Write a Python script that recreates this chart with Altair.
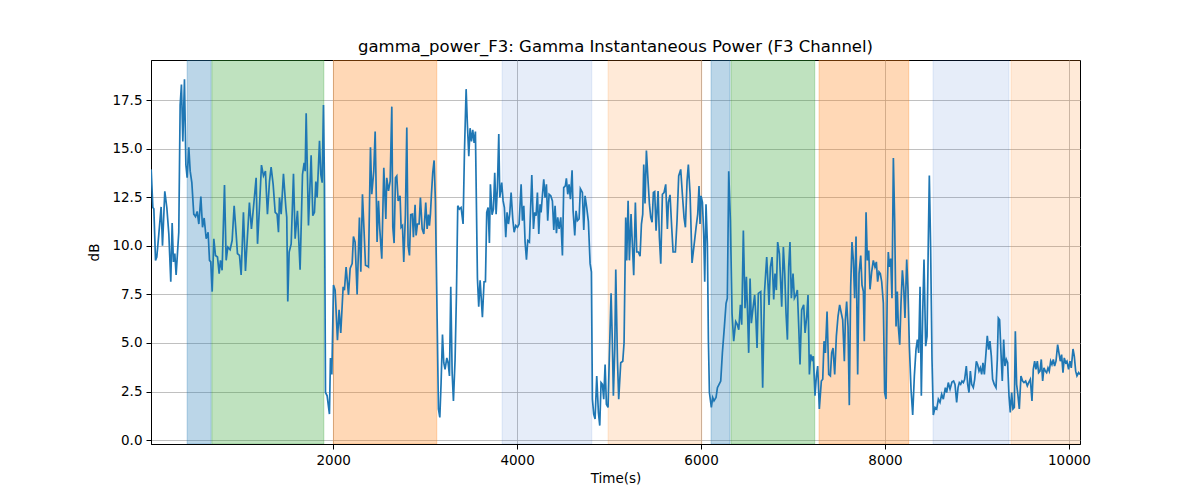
import altair as alt
import pandas as pd

# ---- line data ----
time_s = [
    22, 40, 51, 69, 83, 105, 130, 145, 170, 192, 214, 235, 250, 264, 279, 293, 322, 337, 351, 366,
    384, 399, 413, 431, 446, 464, 485, 504, 522, 540, 562, 580, 598, 620, 641, 656, 670, 685, 703, 721,
    743, 761, 775, 793, 819, 837, 855, 880, 902, 924, 946, 960, 982, 1000, 1025, 1047, 1069, 1090, 1112, 1134,
    1163, 1178, 1199, 1221, 1243, 1264, 1286, 1308,
    1326, 1348, 1370, 1391, 1406, 1417, 1435, 1460, 1486, 1496, 1507, 1522, 1544, 1569, 1587, 1612, 1641, 1667, 1685, 1696,
    1707, 1732, 1761, 1779, 1797, 1812, 1826, 1852, 1866, 1881, 1895, 1906, 1917, 1935, 1960, 1971, 1986, 2004, 2022, 2047,
    2065, 2083, 2109, 2123, 2141, 2167, 2185, 2207, 2221, 2239, 2261, 2286, 2301, 2319, 2337, 2352, 2373, 2384, 2406, 2420,
    2442, 2457, 2478, 2493, 2507, 2529, 2551,
    2573, 2583, 2602, 2620, 2638, 2649, 2663, 2678, 2692, 2707, 2728, 2739, 2754, 2768, 2786, 2801, 2815, 2830, 2844, 2862,
    2873, 2891, 2902, 2917, 2935, 2949, 2968, 2986, 3007, 3022, 3036, 3047, 3058, 3069, 3083, 3098, 3112, 3131, 3145, 3160,
    3174, 3189, 3203, 3217, 3236, 3250, 3265, 3279, 3294, 3308, 3326, 3341, 3355, 3373, 3391, 3413, 3428, 3446, 3460, 3475,
    3489, 3504, 3518, 3533, 3547, 3569, 3583, 3598, 3623, 3641, 3656, 3670, 3685, 3699, 3710, 3728, 3743, 3757, 3772, 3786,
    3801, 3812,
    3833, 3848, 3862, 3877, 3891, 3906, 3920, 3935, 3953, 3968, 3986, 4004, 4022, 4044, 4058, 4073, 4087, 4102, 4116, 4134,
    4160, 4178, 4192, 4207, 4221, 4236, 4250, 4261, 4275, 4290, 4304, 4319, 4333, 4348, 4366, 4384, 4399, 4413, 4428, 4442,
    4457, 4475, 4493, 4507, 4525, 4536, 4551, 4565, 4580, 4598, 4609, 4627, 4641, 4656, 4674, 4688, 4710, 4725, 4739, 4757,
    4775, 4794, 4808, 4819, 4833, 4848, 4866, 4884, 4899, 4913, 4928, 4942, 4957, 4971, 4989, 5004, 5022, 5036, 5047, 5062,
    5073, 5091, 5105, 5127, 5149, 5163, 5181, 5192, 5207, 5221, 5239, 5250, 5268, 5286, 5301, 5319, 5337, 5352, 5366, 5377,
    5391, 5406, 5424, 5439, 5453, 5468, 5482, 5496, 5511, 5533, 5547, 5562, 5580, 5598, 5616, 5634, 5645, 5663, 5681, 5696,
    5721, 5739, 5757, 5779, 5797, 5815, 5830, 5848, 5862, 5881, 5902, 5924, 5946, 5964, 5978, 5989, 6000, 6015, 6029, 6040,
    6054, 6069, 6080, 6091, 6112, 6127, 6141, 6163, 6178, 6196, 6214, 6232, 6254, 6272, 6286, 6301,
    6319, 6337, 6355, 6377, 6395, 6410, 6428, 6442, 6460, 6478, 6493, 6507, 6518, 6533, 6547, 6565, 6583, 6594, 6609, 6623,
    6649, 6670, 6689, 6714, 6739, 6754, 6772, 6790, 6804, 6819, 6833, 6852, 6877, 6895, 6910, 6924, 6939, 6953, 6967, 6982,
    7000, 7015, 7033, 7047, 7062, 7076, 7094, 7116, 7131, 7149, 7163, 7178, 7192, 7207, 7221, 7239, 7254, 7268, 7286, 7308,
    7323, 7337, 7352, 7370, 7388, 7406, 7420, 7435, 7453, 7471, 7489, 7507, 7525, 7540, 7558,
    7569, 7583, 7598, 7612, 7627, 7641, 7656, 7670, 7685, 7703, 7718, 7736, 7750, 7765, 7775, 7794, 7808, 7823, 7837, 7855,
    7873, 7891, 7906, 7920, 7935, 7949, 7964, 7982, 7996, 8011, 8025, 8036, 8047, 8062, 8076, 8091, 8105, 8120, 8134, 8145,
    8160, 8174, 8189, 8203, 8217, 8236, 8250, 8265, 8283, 8301, 8319, 8337, 8352, 8366, 8381, 8395, 8410, 8424, 8442, 8457,
    8471, 8482, 8496, 8511, 8525, 8544, 8562, 8580, 8598, 8616, 8634, 8656, 8670, 8688, 8707, 8728, 8746, 8761, 8779, 8794,
    8808,
    8823, 8837, 8852, 8866, 8884, 8899, 8913, 8928, 8942, 8960, 8975, 8993, 9007, 9022, 9036, 9051, 9065, 9080, 9098, 9112,
    9127, 9141, 9156, 9170, 9188, 9207, 9221, 9232, 9246, 9261, 9275, 9290, 9304, 9319, 9333, 9348, 9362, 9377, 9391, 9406,
    9417, 9431, 9446, 9460, 9478, 9496, 9511, 9529, 9547, 9562, 9580, 9598, 9612, 9627, 9641, 9656, 9670, 9685, 9699, 9714,
    9728, 9743, 9757, 9772, 9786, 9801, 9815, 9830, 9844, 9859, 9877, 9891, 9906, 9920, 9935, 9949, 9964, 9978, 9996, 10011,
    10025, 10044, 10058, 10073, 10087, 10105, 10120,
]

power_db = [
    13.93, 11.97, 11.9, 9.25, 9.42, 10.6, 12.0, 10.0, 12.8, 11.97, 10.6, 8.15, 11.17, 9.17, 9.6, 8.5, 10.7, 17.24, 18.3, 15.37,
    18.57, 14.18, 13.5, 15.07, 13.84, 13.25, 11.63, 11.5, 11.77, 11.12, 12.53, 10.95, 11.43, 10.36, 10.7, 9.25, 9.17, 7.64, 10.36, 9.5,
    9.42, 8.57, 9.25, 8.74, 13.13, 9.25, 9.93, 9.8, 10.27, 12.06, 10.6, 9.6, 9.5, 8.5, 11.72, 8.7, 10.53, 12.23, 10.87, 11.97,
    13.5, 10.1, 11.97, 14.15, 13.6, 13.84, 11.63, 13.3,
    14.05, 13.16, 11.72, 11.63, 10.7, 12.48, 11.63, 13.7, 11.97, 11.46, 7.13, 9.68, 10.1, 13.7, 10.36, 11.8, 8.77, 13.67, 14.27, 13.84,
    16.82, 11.04, 14.66, 11.55, 11.72, 13.3, 12.48, 15.4, 13.67, 13.25, 17.24, 13.16, 2.45, 2.28, 1.34, 4.23, 3.38, 7.98, 7.72, 5.14,
    6.7, 5.51, 7.89, 7.72, 8.91, 7.47, 8.83, 9.08, 10.48, 10.19, 7.5, 11.46, 8.66, 12.65, 10.7, 9.0, 8.95, 8.91, 15.07, 12.65,
    13.84, 15.88, 10.19, 12.31, 10.87, 9.34, 14.01,
    11.38, 13.5, 12.82, 13.33, 17.16, 10.95, 10.14, 13.5, 13.59, 12.31, 12.57, 10.95, 11.04, 9.17, 11.63, 16.09, 10.02, 9.5, 11.6, 11.63,
    10.44, 12.11, 10.53, 11.12, 11.12, 12.48, 10.87, 10.61, 12.23, 10.87, 11.6, 11.04, 11.63, 12.65, 13.76, 14.39, 12.31, 6.19, 1.6, 1.17,
    2.96, 5.43, 3.98, 3.64, 4.23, 3.98, 3.3, 7.89, 3.47, 2.02, 4.15, 7.55, 12.06, 11.89, 11.97, 11.12, 14.86, 18.06, 16.22, 14.61,
    16.05, 15.37, 15.97, 15.29, 15.88, 8.32, 6.87, 8.23, 6.33, 8.15, 8.15, 11.72, 11.97, 10.14, 13.16, 11.6, 11.89, 13.76, 11.63, 12.99,
    15.75, 12.48,
    13.25, 12.31, 11.97, 10.44, 11.72, 11.12, 11.63, 12.74, 11.38, 10.7, 11.04, 10.95, 11.12, 13.16, 11.29, 12.06, 10.19, 9.29, 10.27, 10.19,
    13.64, 10.87, 11.72, 11.55, 12.74, 10.61, 12.14, 11.72, 12.57, 13.42, 12.48, 13.16, 11.29, 12.65, 12.57, 12.31, 10.82, 12.06, 10.65, 11.46,
    10.87, 11.46, 9.5, 12.99, 13.08, 13.47, 12.65, 13.16, 12.4, 13.88, 11.8, 10.53, 11.8, 11.29, 11.38, 12.94, 12.74, 10.82, 12.57, 11.97,
    11.26, 9.08, 8.66, 2.11, 1.34, 1.09, 3.3, 1.43, 0.75, 2.96, 2.87, 2.11, 3.89, 1.85, 1.68, 4.49, 7.55, 5.0, 2.28, 4.66,
    8.78, 4.15, 2.11, 3.98, 4.06, 5.0, 11.46, 9.25, 12.31, 9.25, 11.63, 10.44, 8.49, 12.23, 9.68, 9.68, 9.46, 11.12, 11.63, 14.18,
    12.18, 14.9, 13.33, 12.14, 11.46, 11.21, 12.74, 12.79, 10.78, 12.82, 10.44, 9.08, 12.65, 12.74, 13.16, 10.87, 12.23, 12.62, 10.95, 9.68,
    9.68, 11.29, 13.59, 13.93, 12.65, 11.46, 10.95, 13.33, 14.18, 12.65, 9.12, 10.02, 10.95, 11.63, 13.08, 11.12, 12.57, 12.23, 10.61, 8.15,
    12.14, 10.1, 5.17, 2.45, 1.68, 2.19, 2.02, 2.19, 2.7, 2.87, 3.04, 4.49, 5.85, 7.04, 7.3, 13.84,
    11.29, 6.53, 5.09, 6.1, 5.94, 5.68, 6.96, 5.94, 10.78, 6.79, 8.4, 6.36, 4.49, 8.32, 6.02, 6.79, 7.47, 6.53, 4.74, 7.55,
    7.64, 2.7, 7.55, 9.42, 6.96, 8.91, 9.42, 7.24, 8.57, 7.72, 10.19, 9.59, 6.87, 9.93, 8.57, 6.53, 5.17, 8.91, 10.19, 7.3,
    8.57, 7.3, 7.47, 7.72, 5.85, 3.89, 6.7, 6.96, 5.51, 6.36, 7.47, 3.38, 4.4, 4.15, 4.32, 2.28, 3.3, 3.81, 1.6, 3.04,
    3.13, 5.09, 4.49, 6.62, 3.38, 3.3, 4.49, 4.74, 3.38, 5.34, 6.36, 6.96, 6.53, 6.19, 4.06,
    6.19, 7.13, 5.85, 1.8, 7.89, 10.19, 9.25, 7.3, 10.48, 3.38, 8.57, 9.5, 7.98, 7.64, 5.09, 11.72, 9.25, 9.76, 7.76, 8.66,
    9.25, 8.91, 9.17, 8.15, 8.66, 8.57, 8.15, 7.04, 2.45, 2.11, 7.89, 9.68, 8.91, 9.34, 7.3, 14.52, 11.29, 5.85, 7.64, 5.85,
    4.91, 7.04, 8.74, 7.89, 6.28, 9.29, 7.72, 4.83, 2.62, 1.29, 3.3, 4.66, 5.17, 4.49, 7.89, 2.28, 6.53, 9.29, 4.83, 5.34,
    10.27, 13.62, 9.93, 4.15, 1.29, 1.68, 1.6, 2.11, 1.94, 2.36, 2.11, 2.7, 2.45, 2.96, 2.62, 2.99, 3.04, 2.87, 1.94, 2.7,
    2.96,
    2.87, 3.04, 2.96, 3.13, 3.81, 2.87, 2.45, 3.55, 2.87, 2.7, 3.13, 4.06, 3.89, 3.55, 3.72, 3.38, 3.98, 3.38, 4.49, 5.37,
    4.66, 5.09, 4.32, 3.13, 2.87, 2.7, 4.15, 6.28, 6.19, 4.49, 3.04, 5.17, 3.81, 4.15, 3.98, 2.28, 1.43, 2.45, 1.6, 1.68,
    5.6, 2.87, 2.28, 1.6, 3.3, 3.04, 2.96, 3.04, 2.79, 2.96, 3.13, 2.02, 3.64, 4.06, 3.64, 4.06, 3.47, 3.55, 4.15, 3.04,
    3.72, 3.55, 3.47, 3.72, 3.55, 4.06, 3.89, 4.15, 3.81, 4.06, 4.91, 4.49, 4.06, 4.4, 3.47, 4.23, 3.98, 4.06, 3.64, 4.06,
    3.72, 4.69, 4.32, 3.55, 3.3, 3.47, 3.38,
]

# ---- shaded spans ----
span_start = [413, 682, 2003, 3837, 4989, 6109, 6326, 7283, 8522, 9370]
span_end = [674, 1899, 3127, 4812, 6008, 6315, 7236, 8258, 9348, 10130]
span_kind = ["A", "B", "C", "D", "E", "A", "B", "C", "D", "E"]
kind_domain = ["A", "B", "C", "D", "E"]
kind_colors = ["#1f77b4", "#2ca02c", "#ff7f0e", "#1f5fc4", "#ff7f0e"]
kind_alpha = [0.3, 0.3, 0.3, 0.11, 0.16]

y_ticks = [0.0, 2.5, 5.0, 7.5, 10.0, 12.5, 15.0, 17.5]
x_ticks = [2000, 4000, 6000, 8000, 10000]

line_df = pd.DataFrame({"t": time_s, "v": power_db})
span_df = pd.DataFrame({"start": span_start, "end": span_end, "kind": span_kind})

FONT = "DejaVu Sans"
x_scale = alt.Scale(domain=[20, 10120], nice=False, zero=False)
y_scale = alt.Scale(domain=[-0.2, 19.56], nice=False, zero=False)

span_layers = []
for k, c, a in zip(kind_domain, kind_colors, kind_alpha):
    span_layers.append(
        alt.Chart(span_df)
        .transform_filter(alt.datum.kind == k)
        .mark_rect(clip=True, strokeWidth=1, fill=c, stroke=c, fillOpacity=a, strokeOpacity=a)
        .encode(x=alt.X("start:Q", scale=x_scale), x2="end:Q")
    )

line = alt.Chart(line_df).mark_line(color="#1f77b4", strokeWidth=1.7, clip=True).encode(
    x=alt.X(
        "t:Q",
        scale=x_scale,
        axis=alt.Axis(title="Time(s)", values=x_ticks, format="d", grid=True),
    ),
    y=alt.Y(
        "v:Q",
        scale=y_scale,
        axis=alt.Axis(title="dB", values=y_ticks, format=".1f", grid=True),
    ),
)

chart = (
    alt.layer(*span_layers, line)
    .properties(
        width=929,
        height=384,
        padding={"left": 143, "top": 52, "right": 112, "bottom": 48},
        autosize=alt.AutoSizeParams(type="none"),
        title=alt.TitleParams(
            text="gamma_power_F3: Gamma Instantaneous Power (F3 Channel)",
            font=FONT,
            fontSize=16.5,
            fontWeight="normal",
            color="black",
            anchor="middle",
            baseline="bottom",
            offset=4,
            dy=15,
        ),
    )
    .configure_view(stroke="black", strokeWidth=1)
    .configure_axis(
        labelFont=FONT,
        titleFont=FONT,
        labelFontSize=13.5,
        titleFontSize=13.5,
        titleFontWeight="normal",
        labelColor="black",
        titleColor="black",
        domainColor="black",
        domainWidth=1,
        tickColor="black",
        tickSize=5,
        tickWidth=1,
        labelPadding=4,
        gridColor="#b0b0b0",
        gridWidth=0.8,
        gridOpacity=1,
    )
    .configure_axisX(titlePadding=5, labelFlush=False)
    .configure_axisY(titlePadding=10, labelFlush=False)
)

chart.save("out.html", embed_options={"renderer": "svg", "actions": False})
